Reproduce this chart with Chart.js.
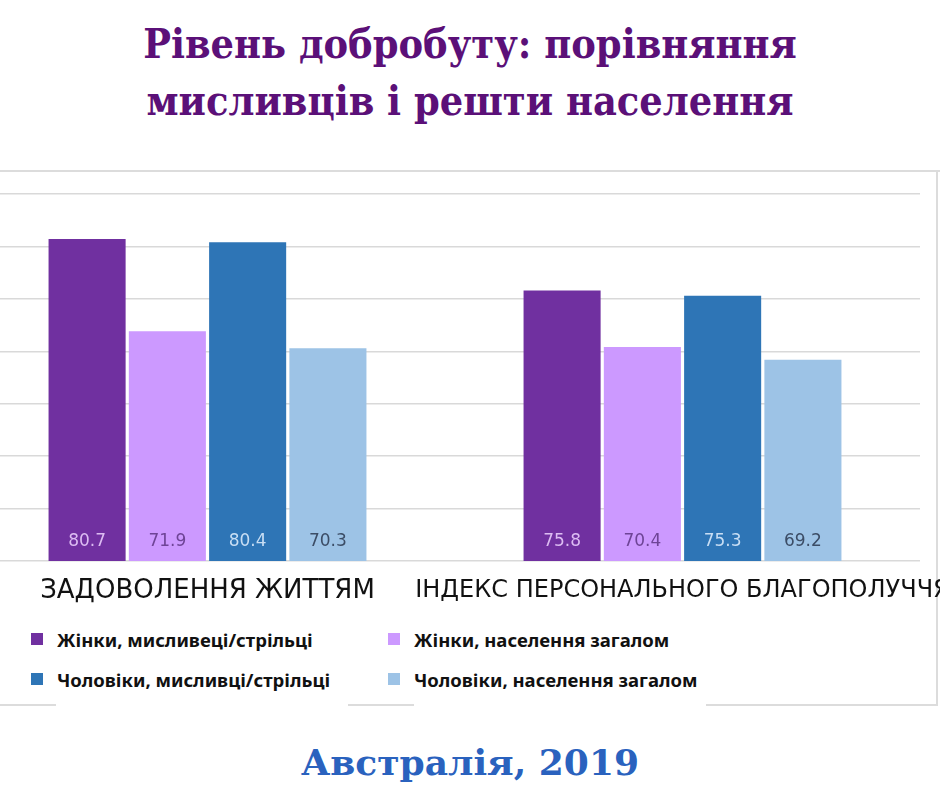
<!DOCTYPE html>
<html lang="uk">
<head>
<meta charset="utf-8">
<title>Рівень добробуту: порівняння мисливців і решти населення</title>
<script src="https://cdn.jsdelivr.net/npm/chart.js@4.4.1/dist/chart.umd.min.js"></script>
<style>
  html, body { margin: 0; padding: 0; background: #fff; }
  body { width: 940px; height: 788px; position: relative; overflow: hidden; }
  .title {
    position: absolute; left: 0; top: 16px; width: 940px; text-align: center;
    font-family: "DejaVu Serif Condensed", "DejaVu Serif", serif; font-stretch: condensed;
    font-weight: bold; font-size: 41px; line-height: 57px; color: #5b1078;
  }
  .subtitle {
    position: absolute; left: 0; top: 742px; width: 940px; text-align: center;
    font-family: "DejaVu Serif", serif; font-weight: bold; font-size: 36px; line-height: 40px;
    color: #2a62be;
  }
  .chart-wrap { position: absolute; left: -30px; top: 184px; width: 1030px; height: 430px; }
  .frame { position: absolute; background: #dcdcdc; }
  .legend-item {
    position: absolute; height: 24px; display: flex; align-items: center;
    font-family: "Noto Sans", sans-serif; font-weight: bold; font-size: 18.5px; color: #111;
    white-space: nowrap;
  }
  .legend-item .box { width: 12px; height: 12px; margin-right: 14px; }
</style>
</head>
<body>
<div class="title">Рівень добробуту: порівняння<br>мисливців і решти населення</div>

<!-- рамка діаграми -->
<div class="frame" style="left:0; top:170px; width:940px; height:2px;"></div>
<div class="frame" style="left:936px; top:170px; width:2px; height:536px;"></div>
<div class="frame" style="left:0; top:704px; width:56px; height:2px;"></div>
<div class="frame" style="left:348px; top:704px; width:66px; height:2px;"></div>
<div class="frame" style="left:706px; top:704px; width:232px; height:2px;"></div>

<div class="chart-wrap"><canvas id="chart" width="1030" height="430"></canvas></div>
<div id="legend"></div>

<div class="subtitle">Австралія, 2019</div>

<script>
// дані
const categories = ['ЗАДОВОЛЕННЯ ЖИТТЯМ', 'ІНДЕКС ПЕРСОНАЛЬНОГО БЛАГОПОЛУЧЧЯ'];
const seriesNames = [
  'Жінки, мисливеці/стрільці',
  'Жінки, населення загалом',
  'Чоловіки, мисливці/стрільці',
  'Чоловіки, населення загалом'
];
const womenHunters = [80.7, 75.8];
const womenGeneral = [71.9, 70.4];
const menHunters = [80.4, 75.3];
const menGeneral = [70.3, 69.2];
const yMin = 50;
const yMax = 85;
const yStep = 5;

// кольори
const barColors = ['#7030a0', '#cc99ff', '#2e75b6', '#9dc3e6'];
const labelColors = ['#dcbcf2', '#6e4496', '#c8def4', '#3c4d66'];
const legendSlots = [
  { left: 31, top: 627 },
  { left: 388, top: 627 },
  { left: 31, top: 667 },
  { left: 388, top: 667 }
];

// підписи значень унизу стовпців
const barLabels = {
  id: 'barLabels',
  afterDraw(chart) {
    const ctx = chart.ctx;
    const bottom = chart.scales.y.getPixelForValue(yMin);
    ctx.save();
    ctx.font = '17px "DejaVu Sans", sans-serif';
    ctx.textAlign = 'center';
    ctx.textBaseline = 'middle';
    chart.data.datasets.forEach((ds, i) => {
      const meta = chart.getDatasetMeta(i);
      meta.data.forEach((bar, j) => {
        const { x } = bar.getProps(['x'], true);
        ctx.fillStyle = labelColors[i];
        ctx.fillText(String(ds.data[j].toFixed(1)), x, bottom - 19);
      });
    });
    ctx.restore();
  }
};

const allSeries = [womenHunters, womenGeneral, menHunters, menGeneral];

const chart = new Chart(document.getElementById('chart').getContext('2d'), {
  type: 'bar',
  data: {
    labels: categories,
    datasets: allSeries.map((values, i) => ({
      label: seriesNames[i],
      data: values,
      backgroundColor: barColors[i],
      borderWidth: 0,
      barPercentage: 0.96,
      categoryPercentage: 0.676
    }))
  },
  options: {
    responsive: false,
    animation: false,
    layout: { padding: { top: 10, right: 80, left: 0, bottom: 0 } },
    plugins: {
      legend: { display: false },
      tooltip: { enabled: false }
    },
    scales: {
      x: {
        grid: { display: false, drawTicks: false },
        border: { display: false },
        ticks: {
          color: '#111',
          font: (c) => ({ family: 'DejaVu Sans', size: c.index === 0 ? 26 : 24 }),
          padding: 15,
          maxRotation: 0,
          autoSkip: false
        },
        afterFit(scale) { scale.height = 53; }
      },
      y: {
        min: yMin,
        max: yMax,
        grid: { color: '#d9d9d9', lineWidth: 1.5, drawTicks: false },
        border: { display: false },
        ticks: { display: false, stepSize: yStep },
        afterFit(scale) { scale.width = 0; }
      }
    }
  },
  plugins: [barLabels]
});

// легенда
const legendEl = document.getElementById('legend');
chart.data.datasets.forEach((ds, i) => {
  const item = document.createElement('div');
  item.className = 'legend-item';
  item.style.left = legendSlots[i].left + 'px';
  item.style.top = legendSlots[i].top + 'px';
  const box = document.createElement('span');
  box.className = 'box';
  box.style.background = ds.backgroundColor;
  const text = document.createElement('span');
  text.textContent = ds.label;
  item.appendChild(box);
  item.appendChild(text);
  legendEl.appendChild(item);
});
</script>
</body>
</html>
